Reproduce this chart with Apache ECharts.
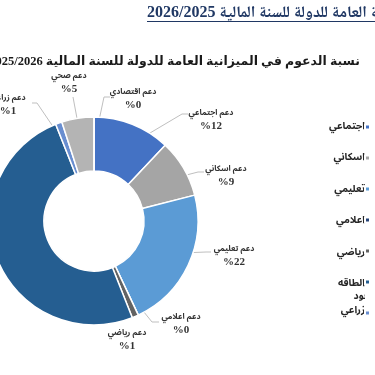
<!DOCTYPE html>
<html dir="rtl">
<head>
<meta charset="utf-8">
<script src="https://cdn.jsdelivr.net/npm/echarts@6/dist/echarts.min.js"></script>
<style>html,body{margin:0;padding:0;background:#fff}#c{width:375px;height:375px}</style>
</head>
<body>
<div id="c"></div>
<script>
// ---- data ----
const categories = ['دعم اجتماعي','دعم اسكاني','دعم تعليمي','دعم اعلامي','دعم رياضي','دعم الطاقه والوقود','دعم زراعي','دعم صحي','دعم اقتصادي'];
const shares = [12, 9, 22, 0, 1, 50, 1, 5, 0];
const legendNames = ['دعم اجتماعي','دعم اسكاني','دعم تعليمي','دعم اعلامي','دعم رياضي','دعم الطاقه والوقود','دعم زراعي'];
const docTitle = 'نسبة الدعوم في الميزانية العامة للدولة للسنة المالية 2026/2025';
const chartTitle = 'نسبة الدعوم في الميزانية العامة للدولة للسنة المالية 2025/2026';

// ---- styles / layout ----
const colors = ['#4472C4','#A5A5A5','#5B9BD5','#264478','#636363','#255E91','#698ED0','#B4B4B4','#7CAFDD'];
const CX = 94, CY = 221, R0 = 50, R1 = 104, RM = 77;
const labelPos = [[211,120],[226,176],[234,256],[181,324],[127,340],[-45,252],[8,105],[69,83],[133,99]];
const lineEnd = [
  [[182,114],[188,114]],
  [[198,172],[204,172]],
  [[206,252],[211,252]],
  [[152,322],[159,322]],
  null,
  [[-10,250],[-15,250]],
  [[37,103],[32,103]],
  [[73,97]],
  [[104,97],[110,97]]
];
const arSans = "'Noto Sans Arabic','DejaVu Sans'";

const chart = echarts.init(document.getElementById('c'), null, {renderer:'canvas'});
const legendText = {fontSize:10, fontWeight:'bold', color:'#262626', fontFamily:arSans, lineHeight:13};
chart.setOption({
  animation:false,
  backgroundColor:'#fff',
  title:[
    {text:docTitle, left:147, top:5, padding:0,
     textStyle:{fontSize:16, fontWeight:'bold', fontFamily:"'Liberation Serif','Noto Naskh Arabic','DejaVu Sans'", color:'#203864'}},
    {text:chartTitle, right:15, top:55, padding:0,
     textStyle:{fontSize:12.5, fontWeight:'bold', fontFamily:"'Liberation Serif','DejaVu Sans'", color:'#1a1a1a'}}
  ],
  legend:[
    // legend texts (their right part runs under the clipping edge, as in the source)
    {data:legendNames.slice(0,6), orient:'vertical', right:-21, top:120.5, padding:0, align:'right',
     itemWidth:5, itemHeight:5, itemGap:18.5, icon:'rect', itemStyle:{opacity:0}, selectedMode:false,
     formatter:n=>n.replace(' والوقود','\nوالوقود'), textStyle:legendText},
    {data:legendNames.slice(6), orient:'vertical', right:-21, top:304.5, padding:0, align:'right',
     itemWidth:5, itemHeight:5, icon:'rect', itemStyle:{opacity:0}, selectedMode:false, textStyle:legendText},
    // legend markers
    {data:legendNames, orient:'vertical', right:4, top:123.5, padding:0, align:'right', z:200,
     itemWidth:5, itemHeight:5, itemGap:24, icon:'rect', selectedMode:false,
     formatter:()=>'', textStyle:{fontSize:1, lineHeight:1}}
  ],
  graphic:[
    {type:'rect', z:100, shape:{x:365, y:112, width:10, height:212}, style:{fill:'#fff'}},
    {type:'line', z:100, shape:{x1:147, y1:21.5, x2:375, y2:21.5}, style:{stroke:'#203864', lineWidth:1.2}}
  ],
  series:[{
    type:'pie', center:[CX,CY], radius:[R0,R1], startAngle:90, clockwise:true,
    avoidLabelOverlap:false, silent:true,
    itemStyle:{borderColor:'#fff', borderWidth:1.5},
    emphasis:{disabled:true},
    data:categories.map((n,i)=>({name:n, value:shares[i], itemStyle:{color:colors[i]}, labelLine:{show:lineEnd[i]!=null}})),
    label:{show:true, position:'outside',
      formatter:p=>'{n|'+p.name+'}\n{v|%'+p.value+'}',
      rich:{
        n:{fontSize:8, fontWeight:'bold', fontFamily:arSans, color:'#333', lineHeight:12, align:'center'},
        v:{fontSize:11, fontWeight:'bold', fontFamily:'Liberation Serif', color:'#333', lineHeight:12, align:'center'}
      }},
    labelLine:{show:true, lineStyle:{color:'#BFBFBF', width:1}},
    labelLayout:function(p){
      const i = p.dataIndex;
      const pos = labelPos[i];
      const res = {x:pos[0], y:pos[1], align:'center', verticalAlign:'middle'};
      if (lineEnd[i]) {
        let sx, sy;
        const pl = p.labelLinePoints;
        if (pl && pl.length) {
          const dx = pl[0][0]-CX, dy = pl[0][1]-CY, d = Math.hypot(dx,dy)||1;
          sx = CX + dx/d*RM; sy = CY + dy/d*RM;
        } else { sx = CX; sy = CY - RM; }
        res.labelLinePoints = [[sx,sy]].concat(lineEnd[i]);
      }
      return res;
    }
  }]
});
</script>
</body>
</html>
